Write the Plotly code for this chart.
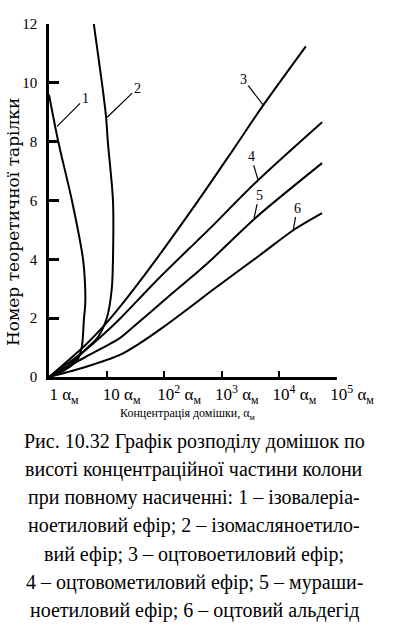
import plotly.graph_objects as go

# ---------------- data ----------------
c1_x = [1, 1.45, 2.5, 3.9, 4.25, 4.25, 4.05, 3.7, 3.1, 1.9, 1]
c1_y = [9.6, 8.0, 6.0, 4.0, 3.0, 2.45, 2.0, 1.0, 0.58, 0.24, 0]

c2_x = [6.0, 8.3, 9.8, 10.5, 12.9, 12.9, 12.3, 10.2, 7.1, 4.8, 2.8, 1.7, 1]
c2_y = [12.0, 10.0, 8.83, 8.0, 6.0, 4.0, 3.0, 2.04, 1.36, 1.02, 0.58, 0.24, 0]

c3_x = [1, 4.3, 9.3, 17, 65, 417, 1550, 5250, 28800]
c3_y = [0, 1.09, 1.77, 2.38, 3.87, 6.08, 7.71, 9.24, 11.24]

c4_x = [1, 4.3, 11.5, 17, 85, 370, 630, 4270, 55000]
c4_y = [0, 0.92, 1.66, 1.98, 3.40, 4.62, 5.06, 6.69, 8.66]

c5_x = [1, 4.3, 17, 26, 126, 370, 630, 3800, 55000]
c5_y = [0, 0.68, 1.32, 1.62, 2.78, 3.55, 3.95, 5.40, 7.27]

c6_x = [1, 4.3, 17, 38, 91, 370, 630, 4570, 17400, 55000]
c6_y = [0, 0.34, 0.75, 1.15, 1.66, 2.55, 2.90, 4.14, 4.99, 5.57]

curve_names = ["1", "2", "3", "4", "5", "6"]
# label leader points on the curves (log10 of concentration, plate number)
label_logx = [0.14, 1.01, 3.72, 3.63, 3.56, 4.24]
label_y = [8.52, 8.83, 9.24, 6.69, 5.40, 4.99]

y_ticks = [0, 2, 4, 6, 8, 10, 12]
x_ticks = [1, 10, 100, 1000, 10000, 100000]
x_ticktext = ["1 α<sub>м</sub>", "10 α<sub>м</sub>", "10<sup>2</sup> α<sub>м</sub>",
              "10<sup>3</sup> α<sub>м</sub>", "10<sup>4</sup> α<sub>м</sub>",
              "10<sup>5</sup> α<sub>м</sub>"]

y_title = "Номер теоретичної тарілки"
x_title = "Концентрація домішки, α<sub>м</sub>"
caption_lines = [
    "Рис. 10.32 Графік розподілу домішок по",
    "висоті концентраційної частини колони",
    "при повному насиченні: 1 – ізовалеріа-",
    "ноетиловий ефір; 2 – ізомасляноетило-",
    "вий ефір; 3 – оцтовоетиловий ефір;",
    "4 – оцтовометиловий ефір; 5 – мураши-",
    "ноетиловий ефір; 6 – оцтовий альдегід",
]

# ---------------- layout geometry ----------------
W, H = 394, 632
L, R, T, B = 49, 337, 24, 377
SERIF = "Liberation Serif"


def px_x(p):
    return (p - L) / (R - L)


def px_y(p):
    return (B - p) / (B - T)


fig = go.Figure()
for xs, ys in [(c1_x, c1_y), (c2_x, c2_y), (c3_x, c3_y),
               (c4_x, c4_y), (c5_x, c5_y), (c6_x, c6_y)]:
    fig.add_trace(go.Scatter(x=xs, y=ys, mode="lines",
                             line=dict(color="black", width=2, shape="spline", smoothing=0.8),
                             showlegend=False, hoverinfo="skip"))

label_offsets = [(28, -28), (30, -29), (-20, -26), (-7, -24), (5, -23), (4, -22)]
for name, lx, ly, (ax, ay) in zip(curve_names, label_logx, label_y, label_offsets):
    fig.add_annotation(x=lx, y=ly, xref="x", yref="y", text=name,
                       showarrow=True, arrowhead=0, arrowwidth=1.2, arrowcolor="black",
                       ax=ax, ay=ay, standoff=0,
                       font=dict(family=SERIF, size=14, color="black"))

fig.add_annotation(x=px_x(13), y=px_y(222), xref="paper", yref="paper",
                   xanchor="center", yanchor="middle",
                   text=y_title, textangle=-90, showarrow=False,
                   font=dict(family="DejaVu Serif", size=17, color="black"))
fig.add_annotation(x=px_x(188), y=px_y(414), xref="paper", yref="paper",
                   xanchor="center", yanchor="middle",
                   text=x_title, showarrow=False,
                   font=dict(family=SERIF, size=12, color="black"))

for i, line in enumerate(caption_lines):
    fig.add_annotation(x=px_x(194), y=px_y(441 + i * 28.3), xref="paper", yref="paper",
                       xanchor="center", yanchor="middle",
                       text=line, showarrow=False,
                       font=dict(family=SERIF, size=20, color="black"))

fig.update_layout(
    width=W, height=H,
    margin=dict(l=L, r=W - R, t=T, b=H - B, pad=0),
    plot_bgcolor="white", paper_bgcolor="white",
    xaxis=dict(type="log", range=[0, 5], showgrid=False, zeroline=False,
               showline=True, linecolor="black", linewidth=2.5,
               ticks="inside", ticklen=6, tickwidth=2, tickcolor="black",
               tickvals=x_ticks, ticktext=x_ticktext, ticklabelshift=15,
               ticklabelstandoff=0,
               tickfont=dict(family=SERIF, size=17, color="black")),
    yaxis=dict(range=[0, 12], showgrid=False, zeroline=False,
               showline=True, linecolor="black", linewidth=2.5,
               ticks="inside", ticklen=10, tickwidth=2.5, tickcolor="black",
               tickvals=y_ticks, ticklabelstandoff=6,
               tickfont=dict(family=SERIF, size=15, color="black")),
)

fig.write_html("out.html", config={"displayModeBar": False},
               post_script="document.body.style.margin='0';")
